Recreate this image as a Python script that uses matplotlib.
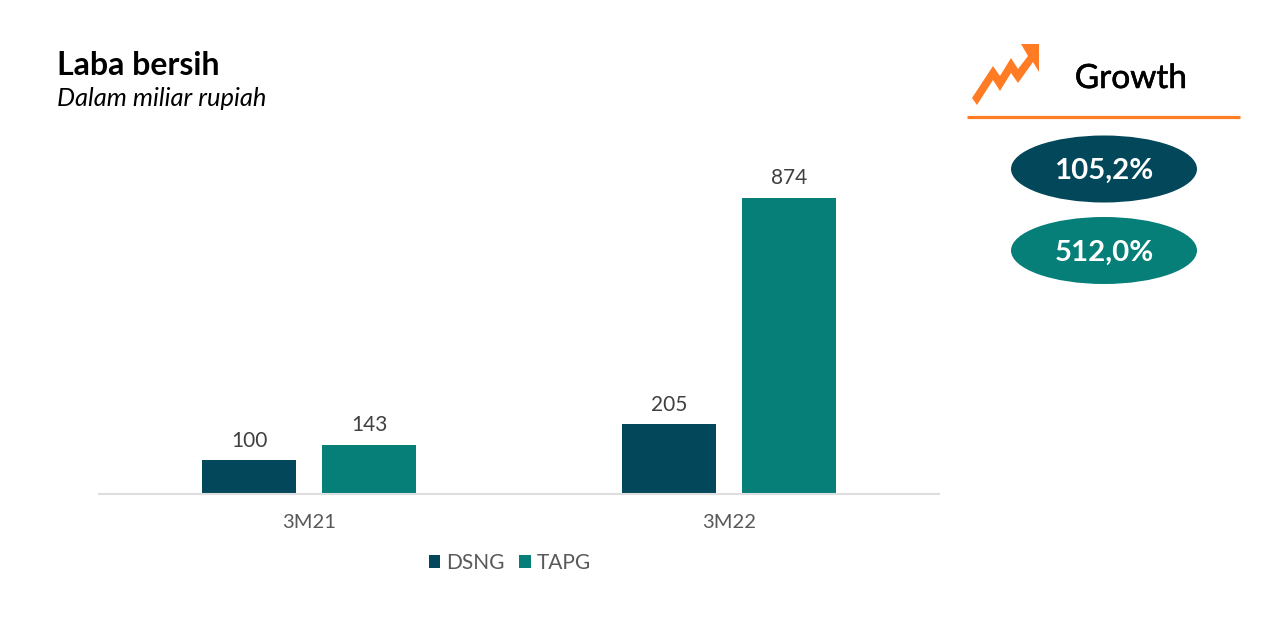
import matplotlib
matplotlib.use('Agg')
import matplotlib.pyplot as plt
import matplotlib.patheffects as pe
import numpy as np
from matplotlib.patches import Ellipse, Polygon

plt.rcParams['font.family'] = ['Lato', 'Open Sans', 'DejaVu Sans']

periods = ['3M21', '3M22']
dsng = [100, 205]
tapg = [143, 874]
growth_labels = ['105,2%', '512,0%']

DARK = '#02475A'
TEAL = '#057F78'
ORANGE = '#FF7C24'
W, H = 1282, 621

fig = plt.figure(figsize=(W / 100, H / 100), dpi=100)

# overlay in pixel coordinates for the title and the growth panel
bg = fig.add_axes([0, 0, 1, 1])
bg.set_xlim(0, W)
bg.set_ylim(H, 0)
bg.axis('off')

# chart
ax = fig.add_axes([99.2 / W, 1 - 493.5 / H, 840 / W, 338 / H])
x = np.arange(len(periods))
bar_w = 94 / 420
step = 120 / 420
b1 = ax.bar(x - step / 2, dsng, bar_w, color=DARK, label='DSNG')
b2 = ax.bar(x + step / 2, tapg, bar_w, color=TEAL, label='TAPG')
ax.bar_label(b1, padding=6.5, fontsize=15, color='#404040')
ax.bar_label(b2, padding=7, fontsize=15, color='#404040')
ax.set_xlim(-0.5, 1.5)
ax.set_ylim(0, 1000)
ax.patch.set_alpha(0)
ax.set_yticks([])
ax.set_xticks(x, periods, fontsize=14.5, color='#595959')
ax.tick_params(axis='x', length=0, pad=15)
for s in ['top', 'left', 'right']:
    ax.spines[s].set_visible(False)
ax.spines['bottom'].set_color('#DEDEDE')
ax.spines['bottom'].set_linewidth(1.5)
ax.legend(loc='center', bbox_to_anchor=((510 - 99.2) / 840, (493.5 - 563) / 338), ncol=2, frameon=False,
          fontsize=15, labelcolor='#595959', handlelength=0.55, handleheight=0.55,
          handletextpad=0.3, columnspacing=0.68)

# title
bg.text(57, 65.5, 'Laba bersih', fontsize=23, fontweight='bold', color='black', va='center')
bg.text(57, 99, 'Dalam miliar rupiah', fontsize=18.4, style='italic', color='black', va='center')

# growth panel
arrow = [(972, 98), (993, 66), (1000, 76), (1011, 58), (1018, 69), (1028, 56), (1021, 44),
         (1039, 44), (1039, 72), (1033, 62), (1018, 83), (1011, 73), (1000, 91), (993, 80), (977, 105)]
bg.add_patch(Polygon(arrow, closed=True, fc=ORANGE, ec='none'))
bg.text(1131, 79, 'Growth', fontsize=24, color='black', ha='center', va='center',
        path_effects=[pe.withStroke(linewidth=0.4, foreground='black')])
bg.plot([967, 1240], [116.5, 116.5], color=ORANGE, lw=2.3, solid_capstyle='butt')

centers = [169, 250.5]
colors = [DARK, TEAL]
for cy, col, lab in zip(centers, colors, growth_labels):
    bg.add_patch(Ellipse((1104, cy), 186, 67, fc=col, ec='none'))
    bg.text(1104, cy + 2, lab, fontsize=21.2, fontweight='bold', color='white', ha='center', va='center')

fig.savefig('out.png', dpi=100, facecolor='white')
